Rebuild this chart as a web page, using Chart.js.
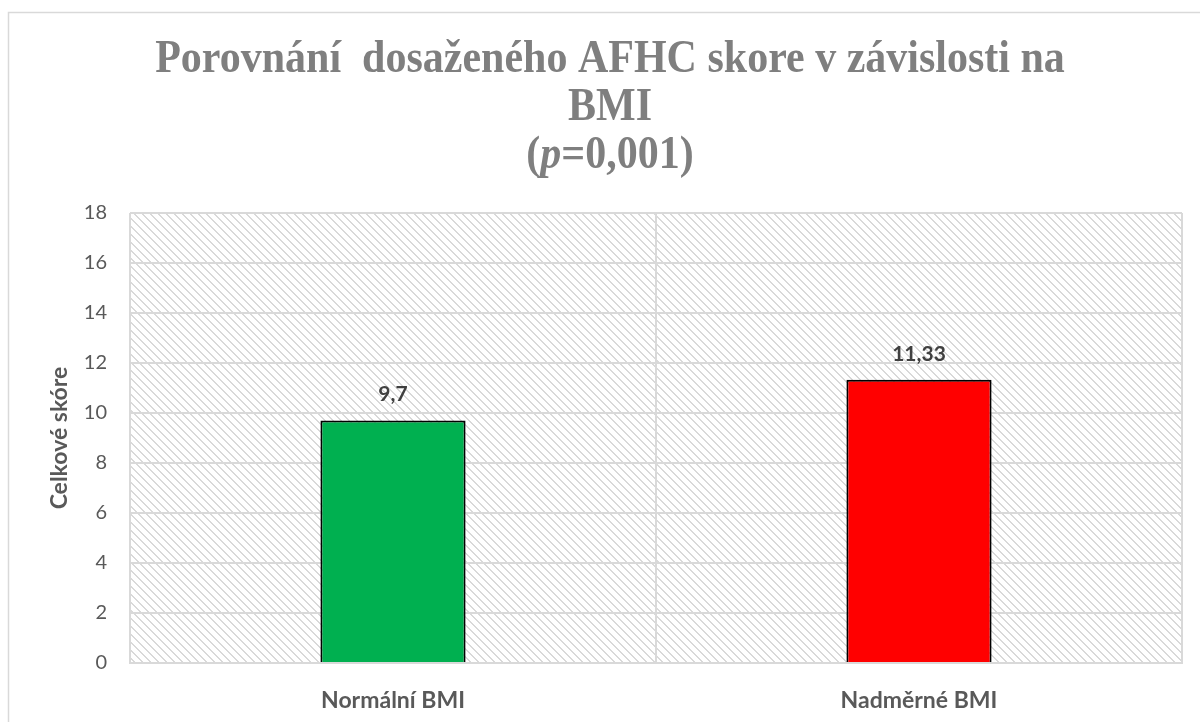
<!DOCTYPE html>
<html>
<head>
<meta charset="utf-8">
<script src="https://cdn.jsdelivr.net/npm/chart.js@4"></script>
<style>
  html, body { margin: 0; padding: 0; background: #fff; }
  #wrap { width: 1200px; height: 722px; position: relative; }
</style>
</head>
<body>
<div id="wrap"><canvas id="chart" width="1200" height="722"></canvas></div>
<script>
/* ==========================================
   DATA
   ========================================== */
const categories  = ['Normální BMI', 'Nadměrné BMI'];
const scores      = [9.7, 11.33];
const scoreLabels = ['9,7', '11,33'];
const barColors   = ['#00B050', '#FF0000'];
const titleLines  = ['Porovnání  dosaženého AFHC skore v závislosti na', 'BMI'];
const yMin = 0, yMax = 18, yStep = 2;

const GRID  = '#d9d9d9';
const TEXT  = '#595959';
const SANS  = 'Lato, "Open Sans", sans-serif';
const SERIF = '"Liberation Serif", "Times New Roman", serif';

// hatched plot background (light downward diagonal)
function makeHatch() {
  const t = document.createElement('canvas');
  t.width = 8; t.height = 8;
  const c = t.getContext('2d');
  c.fillStyle = '#ffffff';
  c.fillRect(0, 0, 8, 8);
  c.fillStyle = '#d9d9d9';
  for (let i = 0; i < 8; i++) {
    c.fillRect(i, i, 1, 1);
    c.fillRect((i + 1) % 8, i, 1, 1);
  }
  return c.createPattern(t, 'repeat');
}

// draw text stretched vertically a little (the original title font is tall)
function tallText(ctx, txt, x, y, sy) {
  ctx.save();
  ctx.translate(x, y);
  ctx.scale(1, sy);
  ctx.fillText(txt, 0, 0);
  ctx.restore();
}

const framePlugin = {
  id: 'frame',
  beforeDraw(chart) {
    const { ctx, chartArea: a } = chart;
    ctx.save();
    ctx.fillStyle = '#fff';
    ctx.fillRect(0, 0, chart.width, chart.height);
    // outer chart border
    ctx.strokeStyle = GRID;
    ctx.lineWidth = 1.5;
    ctx.beginPath();
    ctx.moveTo(8.5, chart.height);
    ctx.lineTo(8.5, 12.5);
    ctx.lineTo(chart.width, 12.5);
    ctx.stroke();
    // plot area hatch
    ctx.fillStyle = makeHatch();
    ctx.fillRect(a.left, a.top, a.right - a.left, a.bottom - a.top);
    ctx.restore();
  },
  afterDraw(chart) {
    const ctx = chart.ctx;
    const cx = 610, sy = 1.12;
    ctx.save();
    ctx.fillStyle = '#7f7f7f';
    ctx.textBaseline = 'alphabetic';
    ctx.textAlign = 'center';
    ctx.font = 'bold 42px ' + SERIF;
    tallText(ctx, titleLines[0], cx, 72, sy);
    tallText(ctx, titleLines[1], cx, 120, sy);
    // third line with italic p
    const parts = [['(', 'bold'], ['p', 'italic bold'], ['=0,001)', 'bold']];
    let total = 0;
    parts.forEach(p => { ctx.font = p[1] + ' 42px ' + SERIF; p.w = ctx.measureText(p[0]).width; total += p.w; });
    let x = cx - total / 2;
    ctx.textAlign = 'left';
    parts.forEach(p => { ctx.font = p[1] + ' 42px ' + SERIF; tallText(ctx, p[0], x, 168, sy); x += p.w; });

    // value labels above bars
    const meta = chart.getDatasetMeta(0);
    ctx.font = 'bold 21px ' + SANS;
    ctx.fillStyle = '#404040';
    ctx.textAlign = 'center';
    ctx.textBaseline = 'middle';
    meta.data.forEach((bar, i) => {
      ctx.fillText(scoreLabels[i], bar.x, bar.y - 26);
    });
    ctx.restore();
  }
};

new Chart(document.getElementById('chart'), {
  type: 'bar',
  data: {
    labels: categories,
    datasets: [{
      data: scores,
      backgroundColor: barColors,
      borderColor: '#000',
      borderWidth: 2,
      borderSkipped: 'start',
      categoryPercentage: 1,
      barPercentage: 0.276
    }]
  },
  options: {
    responsive: false,
    animation: false,
    layout: { padding: { top: 213, right: 18, left: 0, bottom: 0 } },
    plugins: { legend: { display: false }, tooltip: { enabled: false }, title: { display: false } },
    scales: {
      x: {
        offset: true,
        grid: { offset: true, color: GRID, lineWidth: 2, drawTicks: false },
        border: { color: GRID, width: 2, z: 1 },
        ticks: { color: TEXT, font: { family: SANS, size: 23, weight: 'bold' }, padding: 24 },
        afterFit(s) { s.height = 59; }
      },
      y: {
        min: yMin, max: yMax,
        grid: { color: GRID, lineWidth: 2, drawTicks: false },
        border: { display: false },
        ticks: { stepSize: yStep, color: TEXT, font: { family: SANS, size: 20 }, padding: 23 },
        title: {
          display: true, text: 'Celkové skóre', color: TEXT,
          font: { family: SANS, size: 23, weight: 'bold' },
          padding: { top: 46, bottom: 0 }
        },
        afterFit(s) { s.width = 130; }
      }
    }
  },
  plugins: [framePlugin]
});
</script>
</body>
</html>
